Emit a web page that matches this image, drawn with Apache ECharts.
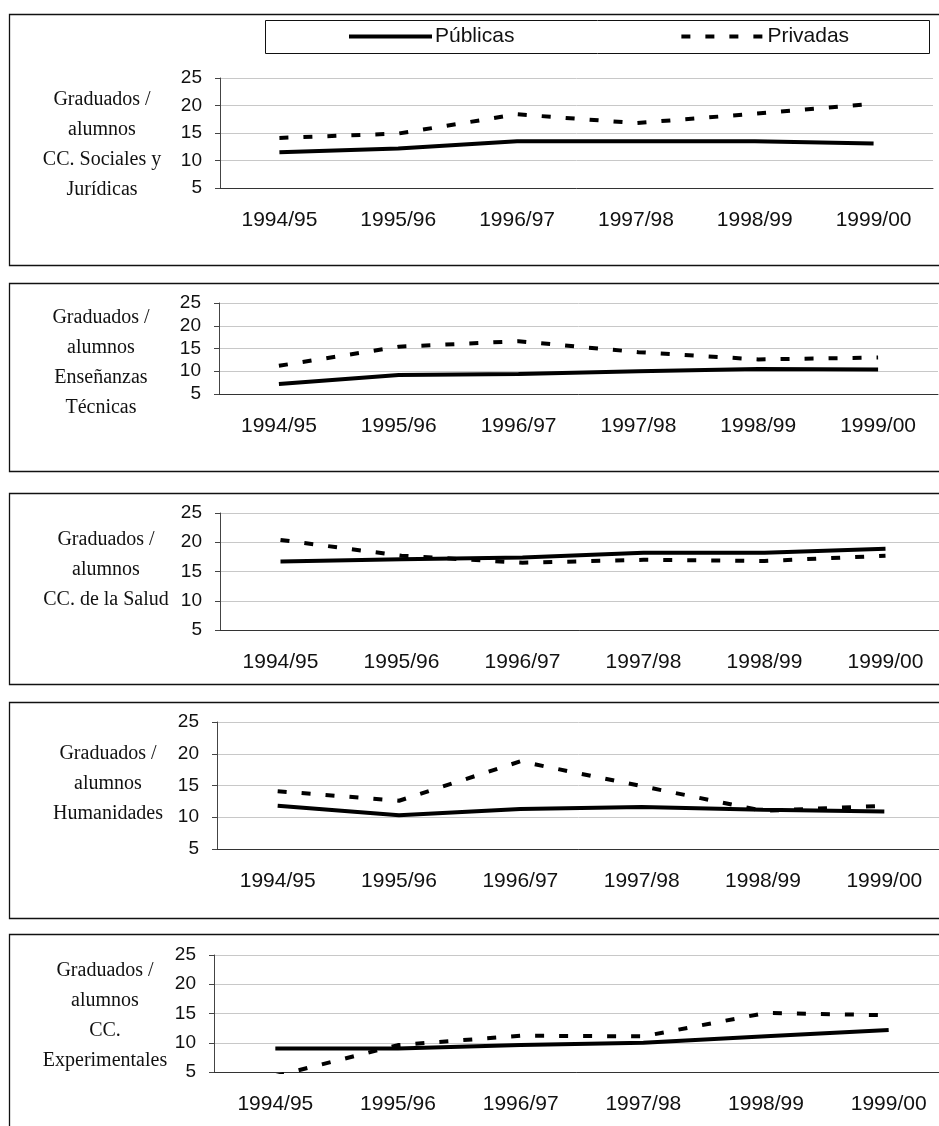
<!DOCTYPE html>
<html>
<head>
<meta charset="utf-8">
<script src="https://cdn.jsdelivr.net/npm/echarts@6/dist/echarts.min.js"></script>
<style>
  html, body { margin: 0; padding: 0; background: #fff; }
  #myChart { width: 939px; height: 1126px; }
</style>
</head>
<body>
<div id="myChart"></div>
<script>
let myChart = echarts.init(document.getElementById('myChart'));

const years = ['1994/95', '1995/96', '1996/97', '1997/98', '1998/99', '1999/00'];
const seriesNames = ['Públicas', 'Privadas'];
const yTicks = [5, 10, 15, 20, 25];

// one label per panel (side text)
const panelLabels = [
  'Graduados /\nalumnos\nCC. Sociales y\nJurídicas',
  'Graduados /\nalumnos\nEnseñanzas\nTécnicas',
  'Graduados /\nalumnos\nCC. de la Salud',
  'Graduados /\nalumnos\nHumanidades',
  'Graduados /\nalumnos\nCC.\nExperimentales',
];

// graduados / alumnos
const publicas = [
  [11.5, 12.2, 13.5, 13.5, 13.5, 13.1],
  [7.2, 9.2, 9.4, 10.0, 10.5, 10.4],
  [16.7, 17.1, 17.4, 18.2, 18.2, 18.9],
  [11.8, 10.3, 11.3, 11.6, 11.2, 10.9],
  [9.0, 9.0, 9.6, 10.0, 11.1, 12.2],
];
const privadas = [
  [14.1, 14.9, 18.4, 16.8, 18.5, 20.3],
  [11.2, 15.4, 16.6, 14.2, 12.6, 13.0],
  [20.4, 17.7, 16.5, 17.0, 16.8, 17.7],
  [14.1, 12.6, 18.8, 14.9, 11.0, 11.8],
  [4.3, 9.6, 11.2, 11.1, 15.1, 14.7],
];

// layout of each panel (pixels)
const grids = [
  { left: 220, top: 78, width: 713, height: 110 },
  { left: 219, top: 303, width: 719, height: 91 },
  { left: 220, top: 513, width: 726, height: 117 },
  { left: 217, top: 722, width: 728, height: 127 },
  { left: 214, top: 955, width: 736, height: 117 },
];
const boxes = [
  { y: 14.5, h: 251 },
  { y: 283.5, h: 188 },
  { y: 493.5, h: 191 },
  { y: 702.5, h: 216 },
  { y: 934.5, h: 200 },
];
const labelTops = [85, 303, 525, 739, 956];
const labelX = [102, 101, 106, 108, 105];

const graphics = [];
boxes.forEach(function (b) {
  graphics.push({
    type: 'rect',
    shape: { x: 9.5, y: b.y, width: 940, height: b.h },
    style: { fill: 'none', stroke: '#111', lineWidth: 1.3 },
  });
});
graphics.push({
  type: 'rect',
  shape: { x: 265.5, y: 20.5, width: 664, height: 33 },
  style: { fill: 'none', stroke: '#111', lineWidth: 1 },
});
panelLabels.forEach(function (txt, i) {
  graphics.push({
    type: 'text',
    x: labelX[i],
    y: labelTops[i],
    style: {
      text: txt,
      font: '20px "Liberation Serif", "Times New Roman", serif',
      fill: '#111',
      textAlign: 'center',
      textVerticalAlign: 'top',
      lineHeight: 30,
    },
  });
});

const xAxes = grids.map(function (g, i) {
  return {
    type: 'category',
    gridIndex: i,
    data: years,
    boundaryGap: true,
    axisLine: { lineStyle: { color: '#333', width: 1 } },
    axisTick: { length: 6, lineStyle: { color: '#333' } },
    axisLabel: {
      margin: 22,
      fontSize: 21,
      color: '#111',
      fontFamily: '"Liberation Sans", Arial, sans-serif',
    },
  };
});

const yAxes = grids.map(function (g, i) {
  return {
    type: 'value',
    gridIndex: i,
    min: yTicks[0],
    max: yTicks[yTicks.length - 1],
    interval: 5,
    axisLine: { show: true, lineStyle: { color: '#444', width: 1 } },
    axisTick: { show: true, length: 5, lineStyle: { color: '#444' } },
    axisLabel: {
      margin: 18,
      fontSize: 19,
      color: '#111',
      fontFamily: '"Liberation Sans", Arial, sans-serif',
    },
    splitLine: { lineStyle: { color: '#c8c8c8', width: 1 } },
  };
});

const series = [];
grids.forEach(function (g, i) {
  series.push({
    name: seriesNames[0],
    type: 'line',
    xAxisIndex: i,
    yAxisIndex: i,
    data: publicas[i],
    symbol: 'none',
    clip: true,
    lineStyle: { color: '#000', width: 4, type: 'solid' },
    itemStyle: { color: '#000' },
    z: 3,
  });
  series.push({
    name: seriesNames[1],
    type: 'line',
    xAxisIndex: i,
    yAxisIndex: i,
    data: privadas[i],
    symbol: 'none',
    clip: true,
    lineStyle: { color: '#000', width: 4, type: [9, 15], cap: 'butt' },
    itemStyle: { color: '#000' },
    z: 4,
  });
});

let myChartOption = {
  animation: false,
  backgroundColor: '#fff',
  grid: grids.map(function (g) {
    return Object.assign({ containLabel: false, outerBoundsMode: 'none' }, g);
  }),
  legend: {
    data: seriesNames,
    left: 347,
    top: 26,
    padding: 0,
    itemWidth: 83,
    itemHeight: 14,
    itemGap: 165,
    itemStyle: { color: 'rgba(0,0,0,0)', borderWidth: 0, opacity: 0 },
    lineStyle: { width: 4 },
    textStyle: {
      fontSize: 21,
      color: '#111',
      fontFamily: '"Liberation Sans", Arial, sans-serif',
      padding: [0, 0, 0, -2],
    },
  },
  xAxis: xAxes,
  yAxis: yAxes,
  series: series,
  graphic: graphics,
};

myChart.setOption(myChartOption);
</script>
</body>
</html>
